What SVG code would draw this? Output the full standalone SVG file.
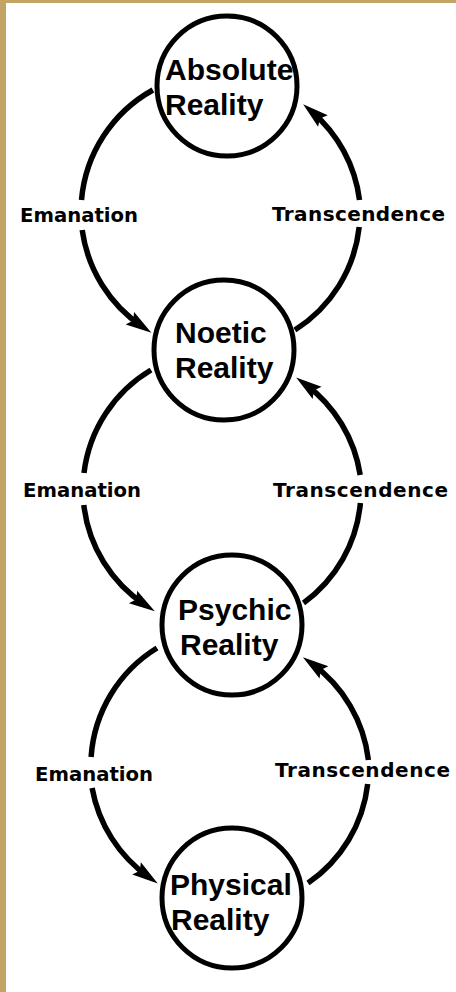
<svg xmlns="http://www.w3.org/2000/svg" width="456" height="992" viewBox="0 0 456 992">
<style>
.node circle{fill:none;stroke:#000;stroke-width:5}
.node text{font-family:"Liberation Sans",Arial,sans-serif;font-weight:bold;font-size:30px;fill:#000}
.arc{fill:none;stroke:#000;stroke-width:5.5}
.lbl{font-family:"DejaVu Sans",Verdana,sans-serif;font-weight:bold;font-size:20px;fill:#000}
</style>
<defs>
<marker id="ah" markerUnits="userSpaceOnUse" markerWidth="30" markerHeight="20" refX="15" refY="10" orient="auto" overflow="visible">
<path d="M26,10 L0,2.5 L4,10 L0,17.5 Z" fill="#000"/>
</marker>
</defs>
<rect x="0" y="0" width="456" height="992" fill="#fff"/>
<rect x="0" y="0" width="6" height="992" fill="#c4a464"/>
<rect x="0" y="0" width="456" height="3" fill="#c4a464"/>

<g id="connectors">
<path class="arc" d="M152.9,90 A139.5,139.5 0 0 0 81.5,200"/>
<path class="arc" d="M82.2,230 A139.5,139.5 0 0 0 142.3,326.6" marker-end="url(#ah)"/>
<path class="arc" d="M294.9,330 A139.5,139.5 0 0 0 359.2,227"/>
<path class="arc" d="M359.5,200 A139.5,139.5 0 0 0 311.5,111.3" marker-end="url(#ah)"/>

<path class="arc" d="M151,370 A139,139 0 0 0 84,473"/>
<path class="arc" d="M83.8,505 A139,139 0 0 0 145.6,605.3" marker-end="url(#ah)"/>
<path class="arc" d="M303.5,603 A139,139 0 0 0 360.4,503"/>
<path class="arc" d="M360.2,475 A139,139 0 0 0 305,384" marker-end="url(#ah)"/>

<path class="arc" d="M157,648 A139,139 0 0 0 91.1,757"/>
<path class="arc" d="M92.1,788 A139,139 0 0 0 148.8,877.1" marker-end="url(#ah)"/>
<path class="arc" d="M308,883 A139,139 0 0 0 367.7,784"/>
<path class="arc" d="M368.4,760 A139,139 0 0 0 311.8,663.6" marker-end="url(#ah)"/>

<text class="lbl" x="20" y="222" textLength="118" lengthAdjust="spacingAndGlyphs">Emanation</text>
<text class="lbl" x="272" y="221" textLength="173" lengthAdjust="spacing">Transcendence</text>
<text class="lbl" x="23" y="497" textLength="118" lengthAdjust="spacingAndGlyphs">Emanation</text>
<text class="lbl" x="273" y="497" textLength="175" lengthAdjust="spacing">Transcendence</text>
<text class="lbl" x="35" y="781" textLength="118" lengthAdjust="spacingAndGlyphs">Emanation</text>
<text class="lbl" x="275" y="777" textLength="175" lengthAdjust="spacing">Transcendence</text>
</g>

<g id="absolute" class="node">
<circle cx="227" cy="86" r="70"/>
<text x="165" y="80">Absolute</text>
<text x="165" y="115">Reality</text>
</g>
<g id="noetic" class="node">
<circle cx="224" cy="350" r="70"/>
<text x="175" y="343">Noetic</text>
<text x="175" y="378">Reality</text>
</g>
<g id="psychic" class="node">
<circle cx="232" cy="625" r="70"/>
<text x="178" y="620">Psychic</text>
<text x="180" y="655">Reality</text>
</g>
<g id="physical" class="node">
<circle cx="232" cy="898" r="70"/>
<text x="170" y="895">Physical</text>
<text x="171" y="930">Reality</text>
</g>
</svg>
